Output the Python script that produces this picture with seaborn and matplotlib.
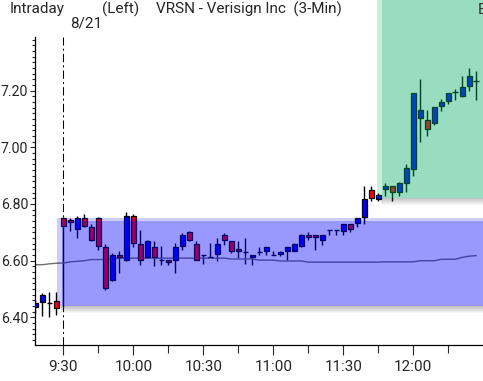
import numpy as np
import pandas as pd
import matplotlib
matplotlib.use("Agg")
import matplotlib.pyplot as plt
from matplotlib import font_manager
from matplotlib.patches import Rectangle
import seaborn as sns

sns.set_style('ticks')
plt.rcParams['font.family'] = ['Roboto', 'DejaVu Sans']
installed = {f.name for f in font_manager.fontManager.ttflist}
narrow = 'Liberation Sans Narrow' if 'Liberation Sans Narrow' in installed else 'Roboto'

# 3-minute bars, 0 = 9:30 bar
bars = list(range(-4, 60))
opens = [6.435, 6.455, 6.450, 6.459, 6.750, 6.743, 6.712, 6.751, 6.719, 6.751,
         6.648, 6.533, 6.619, 6.601, 6.759, 6.660, 6.613, 6.648, 6.601, 6.601,
         6.604, 6.651, 6.702, 6.659, 6.621, 6.614, 6.624, 6.692, 6.671, 6.641,
         6.631, 6.612, 6.631, 6.633, 6.621, 6.624, 6.633, 6.635, 6.651, 6.690,
         6.690, 6.672, 6.707, 6.707, 6.704, 6.731, 6.733, 6.755, 6.851, 6.816,
         6.854, 6.863, 6.842, 6.875, 6.925, 7.102, 7.098, 7.084, 7.144, 7.162,
         7.194, 7.182, 7.215, 7.235]
highs = [6.462, 6.487, 6.488, 6.491, 6.755, 6.751, 6.759, 6.765, 6.730, 6.753,
         6.660, 6.627, 6.633, 6.771, 6.763, 6.710, 6.672, 6.671, 6.651, 6.603,
         6.663, 6.698, 6.705, 6.668, 6.621, 6.663, 6.680, 6.698, 6.671, 6.668,
         6.680, 6.621, 6.649, 6.648, 6.635, 6.633, 6.648, 6.663, 6.695, 6.702,
         6.690, 6.692, 6.707, 6.707, 6.731, 6.731, 6.751, 6.863, 6.863, 6.840,
         6.875, 6.863, 6.877, 6.940, 7.191, 7.241, 7.131, 7.141, 7.170, 7.191,
         7.205, 7.250, 7.280, 7.270]
lows = [6.415, 6.405, 6.400, 6.410, 6.437, 6.704, 6.680, 6.718, 6.668, 6.639,
        6.497, 6.527, 6.556, 6.598, 6.650, 6.586, 6.610, 6.580, 6.586, 6.586,
        6.556, 6.639, 6.670, 6.601, 6.588, 6.614, 6.598, 6.657, 6.627, 6.610,
        6.588, 6.586, 6.619, 6.619, 6.621, 6.617, 6.604, 6.633, 6.649, 6.674,
        6.639, 6.657, 6.692, 6.690, 6.689, 6.700, 6.719, 6.730, 6.810, 6.810,
        6.828, 6.810, 6.828, 6.842, 6.898, 7.019, 7.040, 7.078, 7.128, 7.152,
        7.167, 7.176, 7.199, 7.167]
closes = [6.452, 6.480, 6.450, 6.432, 6.721, 6.736, 6.751, 6.724, 6.673, 6.651,
          6.503, 6.621, 6.612, 6.759, 6.663, 6.604, 6.671, 6.613, 6.601, 6.594,
          6.647, 6.692, 6.674, 6.604, 6.621, 6.614, 6.659, 6.672, 6.633, 6.635,
          6.631, 6.621, 6.631, 6.648, 6.621, 6.631, 6.648, 6.659, 6.690, 6.684,
          6.684, 6.692, 6.707, 6.707, 6.731, 6.712, 6.751, 6.818, 6.822, 6.830,
          6.863, 6.842, 6.873, 6.928, 7.191, 7.131, 7.063, 7.141, 7.160, 7.191,
          7.194, 7.211, 7.250, 7.235]
avg_line = [6.586, 6.586, 6.589, 6.591, 6.592, 6.596, 6.598, 6.600, 6.604, 6.604,
            6.605, 6.606, 6.609, 6.609, 6.609, 6.609, 6.609, 6.609, 6.609, 6.609,
            6.609, 6.609, 6.609, 6.609, 6.609, 6.609, 6.609, 6.609, 6.606, 6.606,
            6.606, 6.606, 6.602, 6.602, 6.602, 6.599, 6.599, 6.599, 6.599, 6.595,
            6.595, 6.595, 6.595, 6.595, 6.595, 6.595, 6.595, 6.595, 6.595, 6.595,
            6.596, 6.596, 6.596, 6.596, 6.596, 6.600, 6.600, 6.600, 6.605, 6.605,
            6.605, 6.612, 6.616, 6.618]

opening_range = (6.441, 6.752)
breakout_level = 6.822
breakout_start = 44.85

time_ticks = [0, 10, 20, 30, 40, 50]
time_labels = ['9:30', '10:00', '10:30', '11:00', '11:30', '12:00']
price_ticks = [6.40, 6.60, 6.80, 7.00, 7.20]
price_labels = ['6.40', '6.60', '6.80', '7.00', '7.20']

df = pd.DataFrame({'bar': bars, 'open': opens, 'high': highs,
                   'low': lows, 'close': closes, 'avg': avg_line})

W, H = 483, 381
fig = plt.figure(figsize=(W / 100, H / 100), dpi=100)
ax = fig.add_axes([34.5 / W, 1 - 345 / H, (W - 34.5) / W, (345 - 37) / H])
xmin, xmax = -4.14, 59.96
ymin, ymax = 6.3027, 7.389
px_x = 1 / 7.0
px_y = 1 / 282.5

# wicks
ax.vlines(df['bar'], df['low'], df['high'], color='k', lw=1.0, zorder=2)
# bodies
diff = (df['close'] - df['open']).abs()
body = df[diff > 0.002]
ax.bar(body['bar'], (body['close'] - body['open']).abs(),
       bottom=np.minimum(body['open'], body['close']), width=0.7,
       color=np.where(body['close'] > body['open'], '#0000ff', '#ff0000'),
       edgecolor='k', linewidth=0.9, zorder=3)
doji = df[diff <= 0.002]
ax.hlines(doji['close'], doji['bar'] - 0.4, doji['bar'] + 0.4, color='k', lw=1.0, zorder=3)

sns.lineplot(data=df, x='bar', y='avg', color='#6e6e6e', lw=1.0, ax=ax, zorder=2)
ax.axvline(0, color='k', lw=0.75, ls=(0, (8, 3, 2, 3)), zorder=2)

# opening range box (soft edges + drop shadow)
lo, hi = opening_range
x0 = -0.9
ax.add_patch(Rectangle((x0, lo), xmax - x0 + 1, hi - lo, fc=(0, 0, 1, 0.2), ec='none', zorder=5))
ax.add_patch(Rectangle((x0 + 5 * px_x, lo), xmax - x0, hi - lo - 3 * px_y,
                       fc=(0, 0, 1, 0.25), ec='none', zorder=5))
for i in range(7):
    ax.add_patch(Rectangle((x0 + 4 * px_x, lo - (i + 1) * px_y), xmax - x0, px_y,
                           fc=(0.25, 0.25, 0.3, 0.32 - 0.045 * i), ec='none', zorder=5))

# breakout zone
top = 7.6
ax.add_patch(Rectangle((breakout_start, breakout_level), xmax - breakout_start + 1, top - breakout_level,
                       fc=(0, 0.67, 0.39, 0.2), ec='none', zorder=5, clip_on=False))
ax.add_patch(Rectangle((breakout_start + 5 * px_x, breakout_level), xmax - breakout_start, top - breakout_level,
                       fc=(0, 0.67, 0.39, 0.25), ec='none', zorder=5, clip_on=False))
for i in range(7):
    ax.add_patch(Rectangle((breakout_start + 4 * px_x, breakout_level - (i + 1) * px_y), xmax - breakout_start, px_y,
                           fc=(0.25, 0.3, 0.28, 0.32 - 0.045 * i), ec='none', zorder=5))

ax.set_xlim(xmin, xmax)
ax.set_ylim(ymin, ymax)
ax.set_xticks(time_ticks)
ax.set_xticklabels(time_labels)
ax.set_xticks([5, 15, 25, 35, 45, 55], minor=True)
ax.set_yticks(price_ticks)
ax.set_yticklabels(price_labels, family=narrow, fontsize=11.5 if narrow != 'Roboto' else 10.2)
ax.set_yticks(np.arange(6.32, 7.39, 0.02), minor=True)
ax.set_xlabel('')
ax.set_ylabel('')
for s in ['top', 'right']:
    ax.spines[s].set_visible(False)
for s in ['left', 'bottom']:
    ax.spines[s].set_linewidth(0.9)
    ax.spines[s].set_color('k')
ax.tick_params(axis='x', which='major', length=7.2, width=0.8, direction='out', pad=3.5, labelsize=11)
ax.tick_params(axis='x', which='minor', length=5.8, width=0.8, direction='out')
ax.tick_params(axis='y', which='major', length=3.6, width=0.8, direction='out', pad=1)
ax.tick_params(axis='y', which='minor', length=2.2, width=0.8, direction='out')

fig.text(10 / W, 1 - 9.5 / H, 'Intraday', va='center', ha='left', fontsize=11)
fig.text(102 / W, 1 - 9.5 / H, '(Left)', va='center', ha='left', fontsize=11)
fig.text(156 / W, 1 - 9.5 / H, 'VRSN - Verisign Inc  (3-Min)', va='center', ha='left', fontsize=11)
fig.text(478 / W, 1 - 9.5 / H, 'E', va='center', ha='left', fontsize=11, color='#333333')
fig.text(70 / W, 1 - 23 / H, '8/21', va='center', ha='left', fontsize=11)

fig.savefig('out.png', dpi=100)
